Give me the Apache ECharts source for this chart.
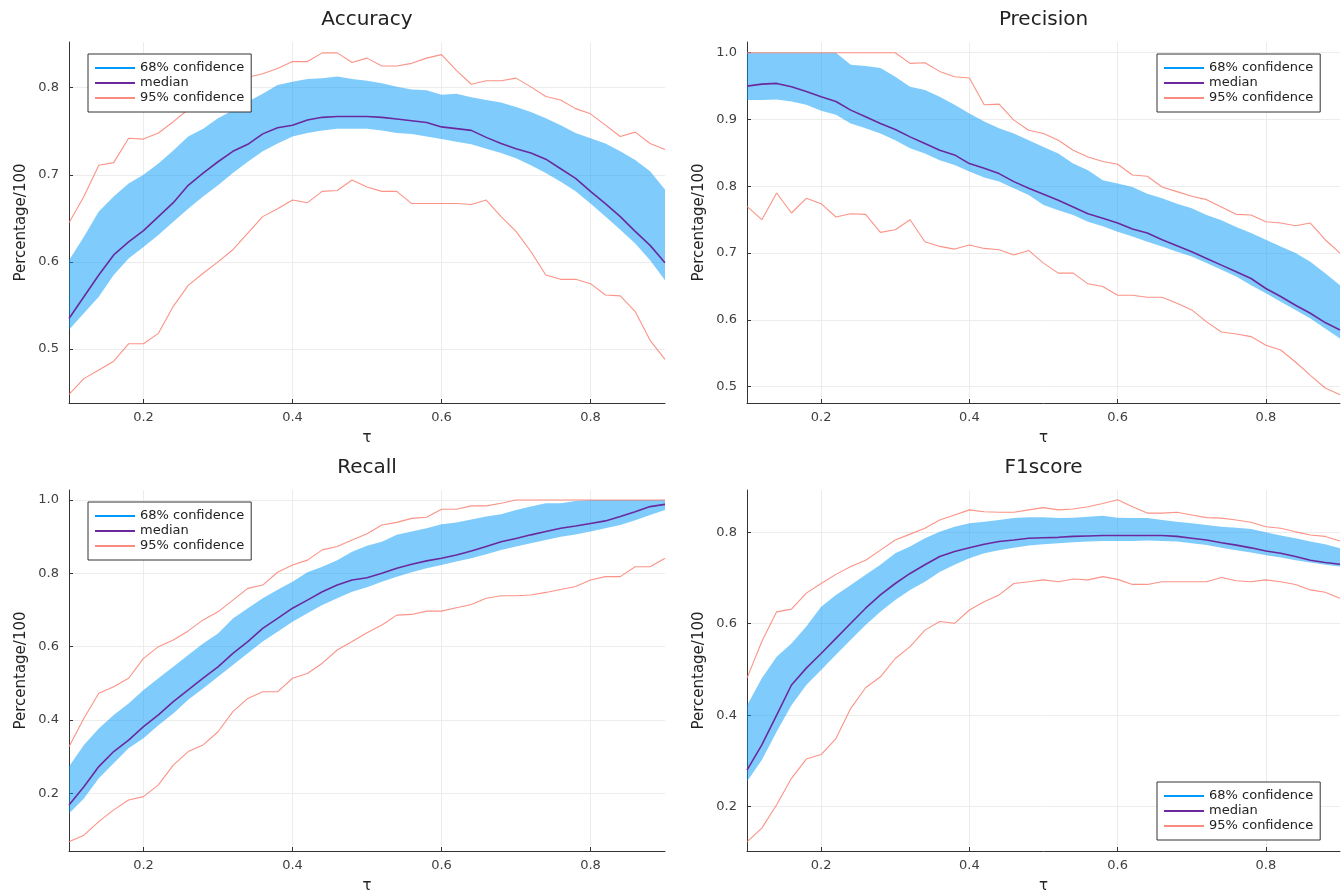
<!DOCTYPE html>
<html>
<head>
<meta charset="utf-8">
<title>Metrics vs tau</title>
<script src="https://cdn.jsdelivr.net/npm/echarts@6/dist/echarts.min.js"></script>
<style>
  html, body { margin: 0; padding: 0; background: #fff; }
  #main { width: 1343px; height: 894px; }
</style>
</head>
<body>
<div id="main"></div>
<script>
// threshold values (x axis)
const tau = [0.10, 0.12, 0.14, 0.16, 0.18, 0.20, 0.22, 0.24, 0.26, 0.28, 0.30,
  0.32, 0.34, 0.36, 0.38, 0.40, 0.42, 0.44, 0.46, 0.48, 0.50,
  0.52, 0.54, 0.56, 0.58, 0.60, 0.62, 0.64, 0.66, 0.68, 0.70,
  0.72, 0.74, 0.76, 0.78, 0.80, 0.82, 0.84, 0.86, 0.88, 0.90];
const xTicks = [0.2, 0.4, 0.6, 0.8];

// Accuracy
const accMedian = [0.535, 0.560, 0.585, 0.608, 0.623, 0.636, 0.652, 0.668, 0.688, 0.702, 0.715,
  0.727, 0.735, 0.747, 0.754, 0.757, 0.763, 0.766, 0.767, 0.767, 0.767,
  0.766, 0.764, 0.762, 0.760, 0.755, 0.753, 0.751, 0.743, 0.736, 0.730,
  0.725, 0.718, 0.707, 0.696, 0.681, 0.667, 0.652, 0.635, 0.619, 0.599];
const accHi68 = [0.602, 0.629, 0.658, 0.675, 0.690, 0.700, 0.713, 0.728, 0.744, 0.753, 0.765,
  0.774, 0.784, 0.793, 0.803, 0.807, 0.810, 0.811, 0.813, 0.810, 0.808,
  0.805, 0.801, 0.798, 0.797, 0.792, 0.793, 0.789, 0.786, 0.783, 0.778,
  0.772, 0.765, 0.757, 0.748, 0.742, 0.736, 0.727, 0.717, 0.704, 0.683];
const accLo68 = [0.522, 0.541, 0.560, 0.585, 0.604, 0.617, 0.631, 0.646, 0.661, 0.675, 0.688,
  0.702, 0.715, 0.727, 0.736, 0.744, 0.748, 0.751, 0.753, 0.753, 0.753,
  0.751, 0.748, 0.747, 0.744, 0.741, 0.738, 0.735, 0.730, 0.725, 0.719,
  0.711, 0.702, 0.692, 0.681, 0.667, 0.652, 0.637, 0.621, 0.602, 0.579];
const accHi95 = [0.645, 0.675, 0.711, 0.714, 0.742, 0.741, 0.748, 0.761, 0.775, 0.785, 0.795,
  0.803, 0.812, 0.816, 0.822, 0.830, 0.830, 0.840, 0.840, 0.829, 0.834,
  0.825, 0.825, 0.828, 0.834, 0.838, 0.820, 0.804, 0.808, 0.808, 0.811,
  0.801, 0.790, 0.786, 0.776, 0.770, 0.757, 0.744, 0.749, 0.736, 0.729];
const accLo95 = [0.448, 0.466, 0.476, 0.486, 0.506, 0.506, 0.518, 0.549, 0.573, 0.587, 0.600,
  0.614, 0.633, 0.652, 0.661, 0.671, 0.668, 0.681, 0.682, 0.694, 0.686,
  0.681, 0.681, 0.667, 0.667, 0.667, 0.667, 0.666, 0.671, 0.652, 0.635,
  0.612, 0.585, 0.580, 0.580, 0.575, 0.562, 0.561, 0.543, 0.510, 0.488];

// Precision
const preMedian = [0.950, 0.953, 0.954, 0.949, 0.942, 0.934, 0.927, 0.914, 0.904, 0.894, 0.885,
  0.874, 0.864, 0.854, 0.847, 0.834, 0.827, 0.819, 0.807, 0.797, 0.788,
  0.779, 0.769, 0.759, 0.752, 0.745, 0.736, 0.730, 0.720, 0.711, 0.702,
  0.692, 0.682, 0.672, 0.662, 0.647, 0.635, 0.622, 0.610, 0.596, 0.585];
const preHi68 = [1.0, 1.0, 1.0, 1.0, 1.0, 1.0, 1.0, 0.982, 0.980, 0.977, 0.964,
  0.949, 0.944, 0.934, 0.922, 0.909, 0.897, 0.887, 0.879, 0.869, 0.859,
  0.849, 0.834, 0.824, 0.809, 0.804, 0.799, 0.789, 0.782, 0.774, 0.767,
  0.757, 0.749, 0.739, 0.730, 0.720, 0.710, 0.700, 0.687, 0.670, 0.652];
const preLo68 = [0.929, 0.929, 0.930, 0.927, 0.922, 0.913, 0.907, 0.894, 0.887, 0.879, 0.869,
  0.857, 0.849, 0.839, 0.832, 0.822, 0.813, 0.807, 0.797, 0.787, 0.772,
  0.764, 0.757, 0.747, 0.740, 0.732, 0.725, 0.717, 0.710, 0.702, 0.695,
  0.685, 0.675, 0.665, 0.652, 0.640, 0.627, 0.615, 0.602, 0.587, 0.572];
const preHi95 = [1.0, 1.0, 1.0, 1.0, 1.0, 1.0, 1.0, 1.0, 1.0, 1.0, 1.0,
  0.984, 0.985, 0.972, 0.964, 0.962, 0.922, 0.923, 0.899, 0.884, 0.879,
  0.869, 0.854, 0.844, 0.837, 0.833, 0.817, 0.815, 0.799, 0.792, 0.785,
  0.780, 0.769, 0.758, 0.757, 0.747, 0.745, 0.741, 0.745, 0.720, 0.700];
const preLo95 = [0.770, 0.750, 0.790, 0.760, 0.782, 0.774, 0.754, 0.759, 0.758, 0.731, 0.735,
  0.750, 0.717, 0.710, 0.706, 0.712, 0.707, 0.705, 0.697, 0.704, 0.685,
  0.670, 0.670, 0.654, 0.650, 0.637, 0.637, 0.634, 0.634, 0.625, 0.615,
  0.597, 0.582, 0.579, 0.575, 0.562, 0.555, 0.537, 0.517, 0.498, 0.488];

// Recall
const recMedian = [0.168, 0.218, 0.273, 0.314, 0.345, 0.382, 0.414, 0.450, 0.482, 0.514, 0.545,
  0.582, 0.614, 0.650, 0.677, 0.705, 0.727, 0.750, 0.768, 0.782, 0.788,
  0.800, 0.814, 0.825, 0.834, 0.841, 0.850, 0.861, 0.873, 0.886, 0.895,
  0.905, 0.914, 0.923, 0.929, 0.936, 0.943, 0.955, 0.968, 0.982, 0.988];
const recHi68 = [0.273, 0.332, 0.377, 0.414, 0.445, 0.482, 0.514, 0.545, 0.577, 0.609, 0.636,
  0.677, 0.705, 0.732, 0.755, 0.777, 0.803, 0.818, 0.836, 0.859, 0.875,
  0.886, 0.905, 0.914, 0.923, 0.934, 0.939, 0.947, 0.955, 0.961, 0.973,
  0.982, 0.991, 0.991, 0.997, 1.0, 1.0, 1.0, 1.0, 1.0, 1.0];
const recLo68 = [0.145, 0.186, 0.241, 0.282, 0.323, 0.350, 0.386, 0.418, 0.455, 0.486, 0.518,
  0.550, 0.582, 0.614, 0.641, 0.668, 0.691, 0.714, 0.732, 0.750, 0.762,
  0.777, 0.791, 0.803, 0.814, 0.823, 0.832, 0.841, 0.852, 0.864, 0.873,
  0.882, 0.891, 0.900, 0.906, 0.914, 0.923, 0.932, 0.945, 0.959, 0.973];
const recHi95 = [0.327, 0.405, 0.473, 0.491, 0.514, 0.568, 0.600, 0.618, 0.643, 0.673, 0.695,
  0.727, 0.759, 0.768, 0.803, 0.823, 0.836, 0.864, 0.873, 0.891, 0.908,
  0.932, 0.939, 0.950, 0.953, 0.975, 0.975, 0.984, 0.984, 0.991, 1.0,
  1.0, 1.0, 1.0, 1.0, 1.0, 1.0, 1.0, 1.0, 1.0, 1.0];
const recLo95 = [0.068, 0.086, 0.123, 0.155, 0.182, 0.191, 0.223, 0.277, 0.314, 0.332, 0.368,
  0.423, 0.459, 0.477, 0.477, 0.514, 0.527, 0.555, 0.591, 0.614, 0.638,
  0.659, 0.686, 0.688, 0.697, 0.697, 0.706, 0.715, 0.732, 0.739, 0.739,
  0.741, 0.748, 0.756, 0.764, 0.782, 0.791, 0.791, 0.818, 0.818, 0.841];

// F1score
const f1Median = [0.280, 0.335, 0.400, 0.466, 0.503, 0.535, 0.568, 0.601, 0.634, 0.663, 0.688,
  0.710, 0.729, 0.747, 0.758, 0.766, 0.774, 0.780, 0.783, 0.787, 0.788,
  0.789, 0.791, 0.792, 0.793, 0.793, 0.793, 0.793, 0.793, 0.791, 0.787,
  0.783, 0.777, 0.772, 0.766, 0.759, 0.754, 0.747, 0.739, 0.734, 0.730];
const f1Hi68 = [0.421, 0.481, 0.528, 0.557, 0.594, 0.637, 0.663, 0.685, 0.707, 0.729, 0.754,
  0.769, 0.787, 0.801, 0.812, 0.820, 0.823, 0.827, 0.831, 0.833, 0.833,
  0.831, 0.832, 0.834, 0.836, 0.832, 0.831, 0.831, 0.827, 0.823, 0.820,
  0.816, 0.812, 0.810, 0.807, 0.800, 0.793, 0.787, 0.780, 0.774, 0.765];
const f1Lo68 = [0.255, 0.302, 0.364, 0.422, 0.466, 0.499, 0.532, 0.565, 0.597, 0.626, 0.652,
  0.674, 0.692, 0.713, 0.729, 0.743, 0.754, 0.761, 0.766, 0.771, 0.774,
  0.776, 0.778, 0.780, 0.781, 0.781, 0.781, 0.782, 0.781, 0.780, 0.776,
  0.772, 0.766, 0.761, 0.756, 0.750, 0.745, 0.739, 0.734, 0.729, 0.725];
const f1Hi95 = [0.481, 0.561, 0.626, 0.632, 0.667, 0.688, 0.708, 0.725, 0.739, 0.761, 0.783,
  0.796, 0.809, 0.827, 0.838, 0.849, 0.845, 0.844, 0.844, 0.849, 0.854,
  0.849, 0.851, 0.856, 0.863, 0.871, 0.856, 0.842, 0.842, 0.844, 0.838,
  0.832, 0.831, 0.827, 0.822, 0.812, 0.809, 0.801, 0.794, 0.791, 0.781];
const f1Lo95 = [0.123, 0.153, 0.204, 0.262, 0.304, 0.314, 0.349, 0.415, 0.460, 0.484, 0.524,
  0.550, 0.586, 0.605, 0.601, 0.630, 0.648, 0.663, 0.688, 0.692, 0.696,
  0.692, 0.698, 0.696, 0.703, 0.697, 0.686, 0.686, 0.692, 0.692, 0.692,
  0.692, 0.701, 0.694, 0.692, 0.696, 0.692, 0.686, 0.674, 0.669, 0.656];

// y tick labels per panel
const accTicks = [0.5, 0.6, 0.7, 0.8];
const preTicks = [0.5, 0.6, 0.7, 0.8, 0.9, 1.0];
const recTicks = [0.2, 0.4, 0.6, 0.8, 1.0];
const f1Ticks = [0.2, 0.4, 0.6, 0.8];

const FONT = 'DejaVu Sans';
const BLUE = '#009afa';
const BAND = 'rgba(0,154,250,0.5)';
const MED = '#6a2a9e';
const RED = 'rgba(250,128,114,0.85)';

const panels = [
  { title: 'Accuracy', med: accMedian, hi68: accHi68, lo68: accLo68, hi95: accHi95, lo95: accLo95,
    yTicks: accTicks, yMin: 0.438, yMax: 0.8525,
    grid: { left: 69, top: 42, width: 596, height: 361 }, legend: { left: 88, top: 54 } },
  { title: 'Precision', med: preMedian, hi68: preHi68, lo68: preLo68, hi95: preHi95, lo95: preLo95,
    yTicks: preTicks, yMin: 0.4756, yMax: 1.016,
    grid: { left: 747, top: 42, width: 593, height: 361 }, legend: { left: 1157, top: 54 } },
  { title: 'Recall', med: recMedian, hi68: recHi68, lo68: recLo68, hi95: recHi95, lo95: recLo95,
    yTicks: recTicks, yMin: 0.0428, yMax: 1.0273,
    grid: { left: 69, top: 490, width: 596, height: 361 }, legend: { left: 88, top: 502 } },
  { title: 'F1score', med: f1Median, hi68: f1Hi68, lo68: f1Lo68, hi95: f1Hi95, lo95: f1Lo95,
    yTicks: f1Ticks, yMin: 0.103, yMax: 0.8925,
    grid: { left: 747, top: 490, width: 593, height: 361 }, legend: { left: 1157, top: 782 } }
];

function pairs(ys) {
  return tau.map((t, i) => [t, ys[i]]);
}

function axisBase(ticks) {
  return {
    type: 'value',
    axisLine: { show: true, onZero: false, lineStyle: { color: '#333', width: 1 } },
    axisTick: { show: true, inside: true, length: 4, customValues: ticks, lineStyle: { color: '#333' } },
    axisLabel: { customValues: ticks, formatter: v => v.toFixed(1), fontFamily: FONT, fontSize: 13, color: '#404040' },
    splitLine: { show: true, lineStyle: { color: '#ececec', width: 1 } },
    nameLocation: 'middle',
    nameTextStyle: { fontFamily: FONT, fontSize: 15, color: '#222' }
  };
}

// 68% band as one polygon: upper edge forward, lower edge back
function bandRenderer(hi, lo) {
  return function (params, api) {
    if (params.dataIndex !== 0) return null;
    const top = hi.map((v, k) => api.coord([tau[k], v]));
    const bottom = lo.map((v, k) => api.coord([tau[k], v])).reverse();
    return {
      type: 'polygon',
      shape: { points: top.concat(bottom) },
      style: { fill: BAND }
    };
  };
}

const grids = [], xAxes = [], yAxes = [], titles = [], legends = [], series = [];

panels.forEach((p, i) => {
  grids.push(Object.assign({ containLabel: false, outerBoundsMode: 'none' }, p.grid));

  xAxes.push(Object.assign(axisBase(xTicks), {
    gridIndex: i, min: 0.1, max: 0.9, name: 'τ', nameGap: 28
  }));
  xAxes[i].axisLabel.margin = 8;

  yAxes.push(Object.assign(axisBase(p.yTicks), {
    gridIndex: i, min: p.yMin, max: p.yMax, name: 'Percentage/100', nameGap: 40
  }));
  yAxes[i].axisLabel.margin = 10;

  titles.push({
    text: p.title, left: p.grid.left + p.grid.width / 2, top: p.grid.top - 32, textAlign: 'center', padding: 0,
    textStyle: { fontFamily: FONT, fontSize: 20, fontWeight: 'normal', color: '#222' }
  });

  legends.push({
    left: p.legend.left, top: p.legend.top, orient: 'vertical',
    itemWidth: 40, itemHeight: 2, itemGap: 1, padding: [7, 7, 7, 7],
    borderColor: '#333', borderWidth: 1, borderRadius: 0, backgroundColor: '#fff',
    selectedMode: false,
    textStyle: { fontFamily: FONT, fontSize: 13, color: '#222', lineHeight: 14 },
    data: [
      { name: '68% confidence', icon: 'rect', itemStyle: { color: BLUE, opacity: 1 } },
      { name: 'median', icon: 'rect', itemStyle: { color: MED, opacity: 1 } },
      { name: '95% confidence', icon: 'rect', itemStyle: { color: 'rgb(250,140,128)', opacity: 1 } }
    ]
  });

  const common = { xAxisIndex: i, yAxisIndex: i, silent: true, animation: false };
  series.push(Object.assign({}, common, {
    name: '68% confidence', type: 'custom', clip: true, z: 1,
    itemStyle: { color: BLUE },
    data: tau.map((t, k) => [t, p.lo68[k], p.hi68[k]]),
    encode: { x: 0, y: [1, 2] },
    renderItem: bandRenderer(p.hi68, p.lo68)
  }));
  series.push(Object.assign({}, common, {
    name: 'median', type: 'line', symbol: 'none', data: pairs(p.med),
    lineStyle: { color: MED, width: 1.6 }, itemStyle: { color: MED }, z: 3
  }));
  series.push(Object.assign({}, common, {
    name: '95% confidence', type: 'line', symbol: 'none', data: pairs(p.hi95),
    lineStyle: { color: RED, width: 1.1 }, itemStyle: { color: RED }, z: 2
  }));
  series.push(Object.assign({}, common, {
    name: '95% confidence', type: 'line', symbol: 'none', data: pairs(p.lo95),
    lineStyle: { color: RED, width: 1.1 }, itemStyle: { color: RED }, z: 2
  }));
});

const chart = echarts.init(document.getElementById('main'), null, { renderer: 'canvas' });
chart.setOption({
  backgroundColor: '#fff',
  animation: false,
  title: titles,
  legend: legends,
  grid: grids,
  xAxis: xAxes,
  yAxis: yAxes,
  tooltip: { show: false },
  series: series
});
</script>
</body>
</html>
